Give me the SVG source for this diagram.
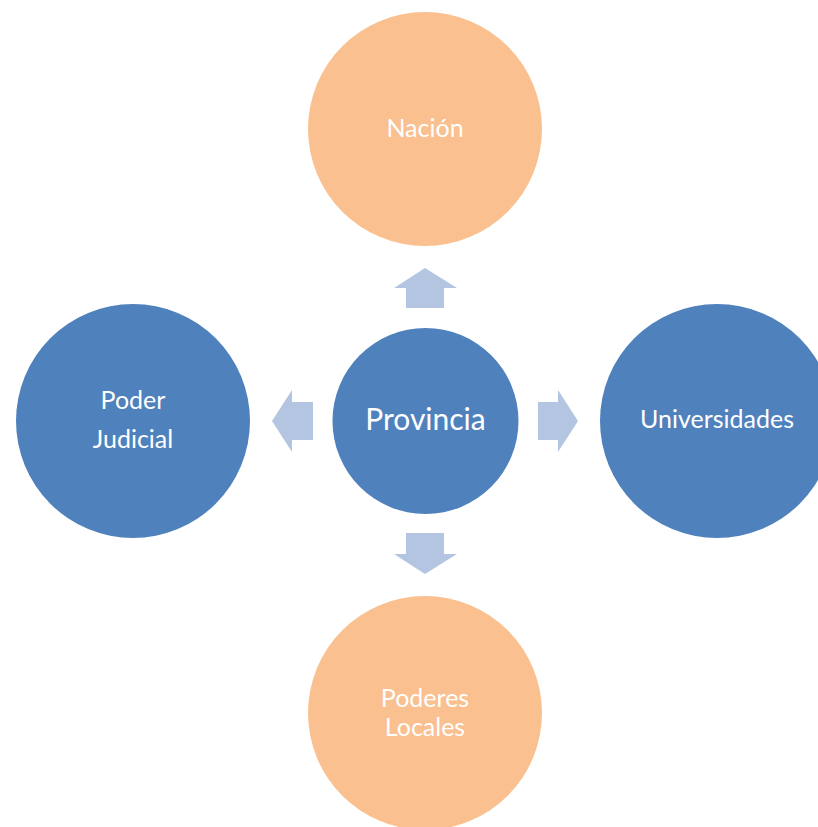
<svg xmlns="http://www.w3.org/2000/svg" width="818" height="827" viewBox="0 0 818 827">
  <style>
    .blue { fill: #4F81BD; }
    .orange { fill: #FAC090; }
    .arrow { fill: #B3C5E0; }
    .lbl { fill: #FFFFFF; font-family: Lato, "Open Sans", sans-serif; font-size: 25px; text-anchor: middle; }
    .big { font-size: 30px; }
  </style>
  <rect width="818" height="827" fill="#FFFFFF"/>
  <g id="connectors">
    <polygon class="arrow" points="425,268 457,288 444,288 444,308 406,308 406,288 394,288"/>
    <polygon class="arrow" points="425,574 457,554 444,554 444,533 406,533 406,554 394,554"/>
    <polygon class="arrow" points="272,421 292,390 292,402 313,402 313,440 292,440 292,452"/>
    <polygon class="arrow" points="578,421 558,390 558,402 538,402 538,440 558,440 558,452"/>
  </g>
  <g id="nacion">
    <circle class="orange" cx="425" cy="129" r="117"/>
    <text class="lbl" x="425" y="137">Nación</text>
  </g>
  <g id="poderes-locales">
    <circle class="orange" cx="425" cy="713" r="117"/>
    <text class="lbl" x="425" y="707">Poderes</text>
    <text class="lbl" x="425" y="736">Locales</text>
  </g>
  <g id="poder-judicial">
    <circle class="blue" cx="133" cy="421" r="117"/>
    <text class="lbl" x="133" y="409">Poder</text>
    <text class="lbl" x="133" y="448">Judicial</text>
  </g>
  <g id="universidades">
    <circle class="blue" cx="717" cy="421" r="117"/>
    <text class="lbl" x="717" y="428">Universidades</text>
  </g>
  <g id="provincia">
    <circle class="blue" cx="425.5" cy="421" r="93"/>
    <text class="lbl big" x="425.5" y="430">Provincia</text>
  </g>
</svg>
